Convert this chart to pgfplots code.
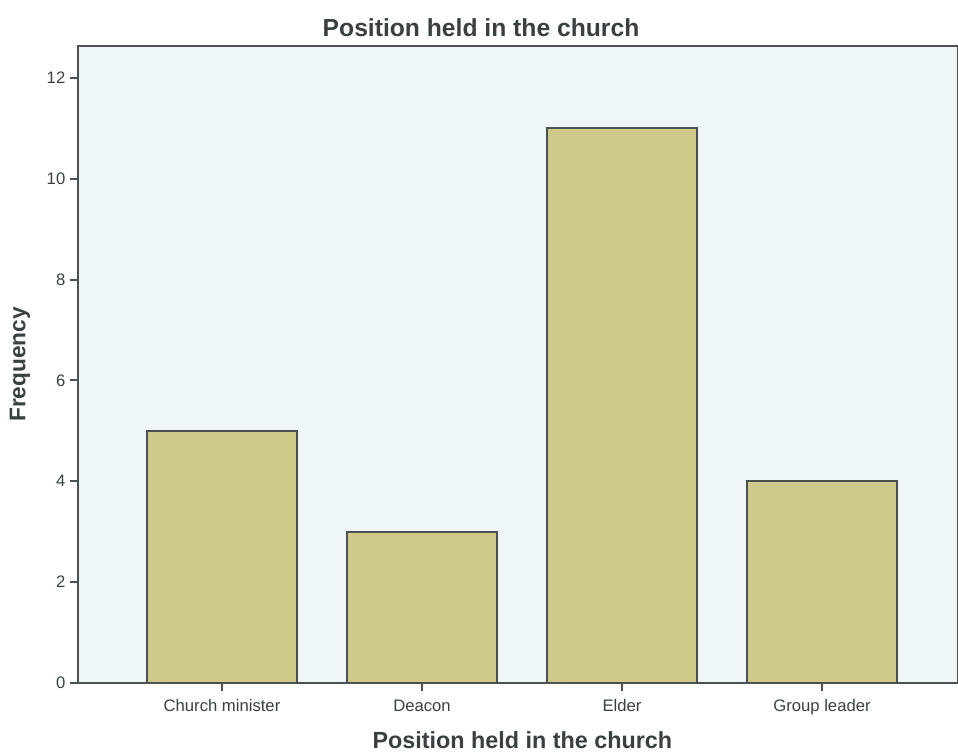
\documentclass[border=0pt]{standalone}
\usepackage{pgfplots}
\pgfplotsset{compat=1.18}
\usepackage{fontspec}
\setmainfont{Liberation Sans}

\definecolor{bgblue}{HTML}{EEF6F8}
\definecolor{barfill}{HTML}{D0CA8A}
\definecolor{framegray}{HTML}{4B5050}
\definecolor{textgray}{HTML}{3A4040}

\begin{document}
\begin{tikzpicture}
  \begin{axis}[
      at={(0,0)}, anchor=south west,
      scale only axis,
      width=660pt, height=477.75pt,
      axis background/.style={fill=bgblue},
      axis line style={framegray, line width=1.5pt},
      xmin=-0.72, xmax=3.68,
      ymin=0, ymax=12.63,
      xtick=data,
      xticklabels={Church minister, Deacon, Elder, Group leader},
      ytick={0,2,...,12},
      xtick pos=bottom, ytick pos=left,
      tick align=outside,
      major tick length=6pt,
      tick style={framegray, line width=1.5pt},
      ticklabel style={text=textgray, font=\fontsize{12.5}{14}\selectfont},
      yticklabel style={xshift=0pt},
      xticklabel style={yshift=-3pt},
      /pgf/number format/assume math mode=true,
      title={\textbf{Position held in the church}},
      title style={at={(rel axis cs:0.458,1)}, anchor=center, yshift=7.5pt,
        text=textgray, font=\fontsize{18.5}{20}\selectfont},
      xlabel={\textbf{Position held in the church}},
      xlabel style={at={(rel axis cs:0.505,0)}, anchor=center, yshift=-43pt,
        text=textgray, font=\fontsize{17.5}{19}\selectfont},
      ylabel={\textbf{Frequency}},
      ylabel style={at={(rel axis cs:0,0.5)}, anchor=center, yshift=43.5pt,
        text=textgray, font=\fontsize{17}{19}\selectfont},
    ]
    \addplot[ybar, bar width=0.75, fill=barfill, draw=framegray, line width=1.5pt]
      coordinates {(0,5) (1,3) (2,11) (3,4)};
  \end{axis}
  \pgfresetboundingbox
  \useasboundingbox (-58.5pt,-52.5pt) rectangle (660pt,512.25pt);
\end{tikzpicture}
\end{document}
